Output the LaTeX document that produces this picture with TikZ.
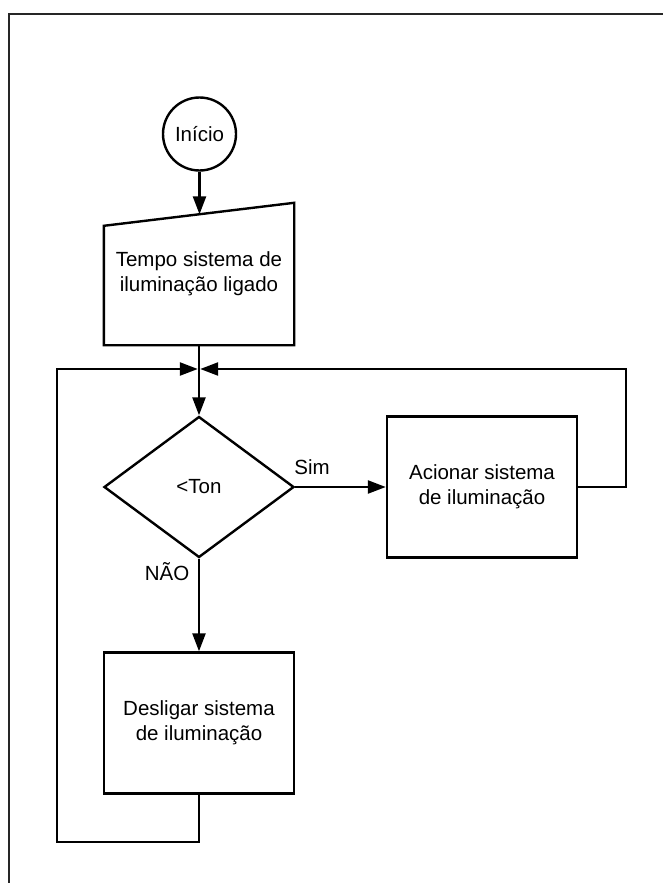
\documentclass[tikz,border=0pt]{standalone}
\usepackage{fontspec}
\setmainfont{Liberation Sans}
\usetikzlibrary{arrows.meta,shapes.geometric,calc}
\begin{document}
\begin{tikzpicture}[x=1pt,y=-1pt,
  every node/.style={font=\fontsize{20.5}{25}\selectfont, align=center},
  outline/.style={draw=black, line width=2.4pt},
  procbox/.style={outline, rectangle, minimum width=190pt, minimum height=141pt, inner sep=0pt},
  startnode/.style={outline, circle, minimum size=73pt, inner sep=0pt},
  decision/.style={outline, diamond, minimum width=190pt, minimum height=141pt, inner sep=0pt},
  flow/.style={line width=2.4pt, -{Triangle[length=18pt,width=13pt]}},
  plain/.style={line width=2.4pt},
  lbl/.style={inner sep=0pt}
]
\useasboundingbox (0,0) rectangle (662,883);
% page frame
\draw[line width=2.4pt, black!85] (9,14) rectangle (720,940);

% nodes
\node[startnode] (ini) at (199.5,134) {Início};
\node[rectangle, minimum width=190pt, minimum height=142pt, inner sep=0pt] (trap) at (199,274) {Tempo sistema de\\iluminação ligado};
\draw[outline, line join=miter] (trap.south west) -- (trap.south east) -- (trap.north east) -- ($(trap.north west)+(0,23)$) -- cycle;
\node[decision] (dec) at (199,487) {<Ton};
\node[procbox] (acion) at (482,487) {Acionar sistema\\de iluminação};
\node[procbox] (desl) at (199,723) {Desligar sistema\\de iluminação};

% helper points
\coordinate (trapin) at ($(trap.north)+(0,11.5)$);
\coordinate (merge) at (199,369);
\coordinate (rloop) at (626,487);
\coordinate (bloop) at (199,842);
\coordinate (lloop) at (57,842);

% connectors
\draw[flow] (ini.south) -- (ini.south |- trapin);
\draw[plain] (trap.south) -- (merge);
\draw[flow] (merge) -- (dec.north);
\draw[flow] (dec.east) -- (acion.west);
\draw[flow] (dec.south) -- (desl.north);
\draw[flow, shorten >=1.2pt] (acion.east) -- (rloop) |- (merge);
\draw[flow, shorten >=1.2pt] (desl.south) -- (bloop) -- (lloop) |- (merge);

% labels
\node[lbl] (sim) at (312,467) {Sim};
\node[lbl] (nao) at (167,572) {NÃO};
\end{tikzpicture}
\end{document}
